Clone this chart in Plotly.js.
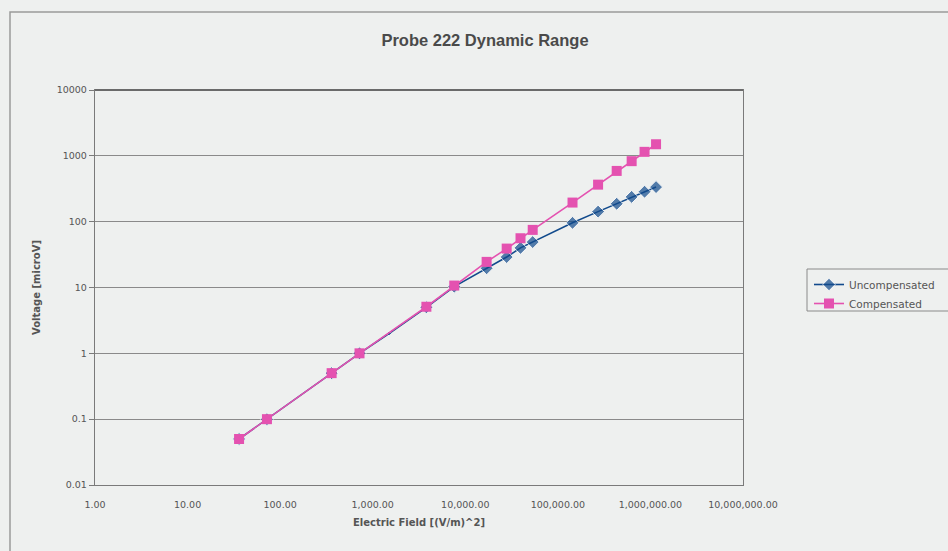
<!DOCTYPE html>
<html>
<head>
<meta charset="utf-8">
<script src="https://cdn.plot.ly/plotly-3.0.1.min.js"></script>
<style>
html,body{margin:0;padding:0;background:#eef0ef;}
#chart{width:948px;height:551px;}
</style>
</head>
<body>
<div id="chart"></div>
<script>
// Data
const fieldUncomp = [36, 72, 360, 720, 1500, 3800, 7600, 17000, 28000, 39500, 53500, 144000, 272000, 432000, 627000, 864000, 1150000];
const voltUncomp  = [0.05, 0.1, 0.5, 1.0, 2.0, 5.0, 10.3, 19.6, 29, 40, 49, 96, 142, 187, 238, 285, 335];
const fieldComp   = [36, 72, 360, 720, 3800, 7600, 17000, 28000, 39500, 53500, 144000, 272000, 432000, 627000, 864000, 1150000];
const voltComp    = [0.05, 0.1, 0.5, 1.0, 5.1, 10.7, 24.5, 39, 56, 75, 195, 365, 590, 830, 1150, 1500];
const xTickVals   = [1, 10, 100, 1000, 10000, 100000, 1000000, 10000000];
const xTickText   = ["1.00", "10.00", "100.00", "1,000.00", "10,000.00", "100,000.00", "1,000,000.00", "10,000,000.00"];
const yTickVals   = [0.01, 0.1, 1, 10, 100, 1000, 10000];
const yTickText   = ["0.01", "0.1", "1", "10", "100", "1000", "10000"];

const FONT = "'DejaVu Sans', Arial, sans-serif";
const TFONT = "Arial, 'Liberation Sans', sans-serif";
const L = 95, R = 743, T = 90, B = 485, W = 948, H = 551;
const px = v => (v - L) / (R - L);
const py = v => (B - v) / (B - T);

// the lone uncompensated point between the compensated ones shows only as a small mark
const uncompMarkerSize = fieldUncomp.map(f => fieldComp.includes(f) ? 10 : 4);

const traces = [
  {
    x: fieldUncomp, y: voltUncomp, name: "Uncompensated",
    type: "scatter", mode: "lines+markers",
    line: {color: "#114a8c", width: 1.6},
    marker: {symbol: "diamond", size: uncompMarkerSize, color: "#114a8c"}
  },
  {
    x: fieldComp, y: voltComp, name: "Compensated",
    type: "scatter", mode: "lines+markers",
    line: {color: "#e452b0", width: 1.6},
    marker: {symbol: "square", size: 10, color: "#e452b0"}
  }
];

const layout = {
  width: W, height: H,
  paper_bgcolor: "#eef0ef", plot_bgcolor: "#eef0ef",
  margin: {l: L, r: W - R, t: T, b: H - B, pad: 0, autoexpand: false},
  font: {family: FONT, size: 9.5, color: "#555"},
  title: {
    text: "<b>Probe 222 Dynamic Range</b>",
    font: {family: TFONT, size: 16.5, color: "#4a4a4a"},
    xref: "paper", x: px(485), xanchor: "center",
    yref: "container", y: 1 - 40 / H, yanchor: "middle"
  },
  xaxis: {
    type: "log", range: [0, 7], automargin: false,
    tickvals: xTickVals, ticktext: xTickText,
    ticks: "", showgrid: false, zeroline: false,
    showline: true, mirror: true, linecolor: "#7a7a7a", linewidth: 1.2,
    tickfont: {family: FONT, size: 9.5, color: "#555"},
    ticklabelstandoff: 10,
    title: {text: "<b>Electric Field [(V/m)^2]</b>", font: {family: FONT, size: 10, color: "#555"}, standoff: 10}
  },
  yaxis: {
    type: "log", range: [-2, 4], automargin: false,
    tickvals: yTickVals, ticktext: yTickText,
    ticks: "outside", ticklen: 5, tickcolor: "#7a7a7a",
    showgrid: true, gridcolor: "#8a8a8a", gridwidth: 1,
    zeroline: false,
    showline: true, mirror: true, linecolor: "#7a7a7a", linewidth: 1.2,
    tickfont: {family: FONT, size: 9.5, color: "#555"},
    title: {text: "<b>Voltage [microV]</b>", font: {family: FONT, size: 10, color: "#555"}, standoff: 14}
  },
  showlegend: true,
  legend: {
    x: px(809), y: py(270), xanchor: "left", yanchor: "top",
    bgcolor: "rgba(0,0,0,0)", borderwidth: 0,
    font: {family: FONT, size: 10.5, color: "#555"},
    tracegroupgap: 0, itemwidth: 30
  },
  shapes: [
    {type: "rect", xref: "paper", yref: "paper",
     x0: px(10), x1: px(960), y0: py(560), y1: py(12),
     line: {color: "#9a9a9a", width: 1.5}, fillcolor: "rgba(0,0,0,0)", layer: "below"},
    {type: "rect", xref: "paper", yref: "paper",
     x0: px(807), x1: px(960), y0: py(311), y1: py(269),
     line: {color: "#8a8a8a", width: 1}, fillcolor: "rgba(0,0,0,0)", layer: "below"},
    {type: "line", xref: "paper", yref: "paper",
     x0: 0, x1: 1, y0: 1, y1: 1,
     line: {color: "#6a6a6a", width: 2.2}, layer: "above"}
  ]
};

Plotly.newPlot("chart", traces, layout, {displayModeBar: false, staticPlot: true});
</script>
</body>
</html>
